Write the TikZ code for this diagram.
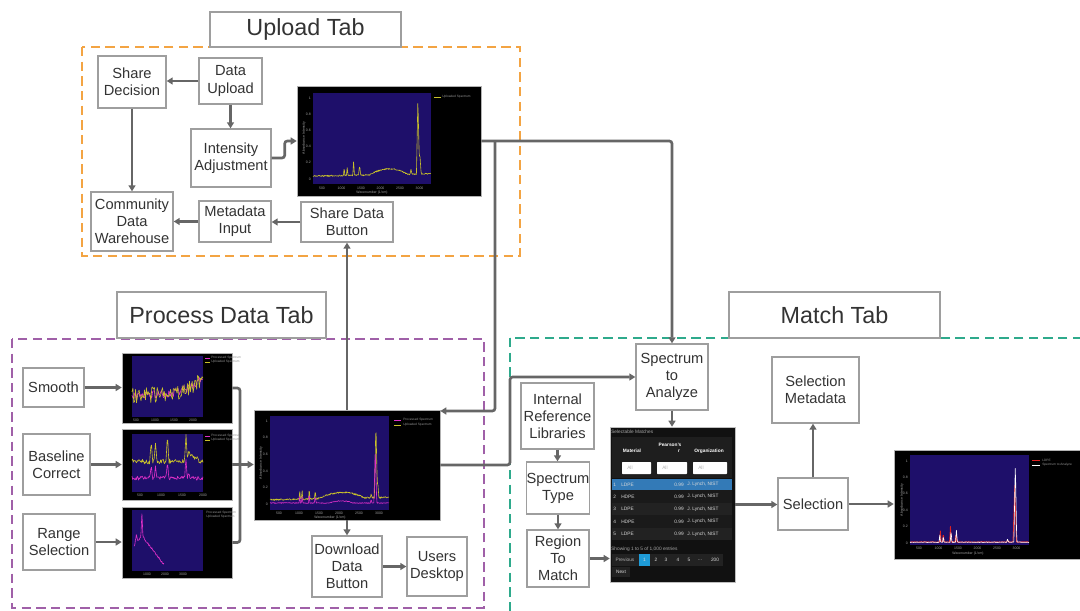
\documentclass[tikz,border=0pt]{standalone}
\usepackage{fontspec}
\setmainfont{Liberation Sans}
\usetikzlibrary{arrows.meta,fit,calc}
\definecolor{txt}{HTML}{333333}
\definecolor{bord}{HTML}{9E9E9E}
\definecolor{conn}{HTML}{666666}
\definecolor{orng}{HTML}{F3A443}
\definecolor{purp}{HTML}{A060A8}
\definecolor{teal}{HTML}{2EAA8C}
\definecolor{plotbg}{HTML}{1E0F6A}
\definecolor{ylw}{HTML}{C9C12A}
\definecolor{mag}{HTML}{E030C8}
\definecolor{redl}{HTML}{E02020}
\definecolor{tblbg}{HTML}{111111}
\definecolor{tblhd}{HTML}{1E1E1E}
\definecolor{rowa}{HTML}{1A1A1A}
\definecolor{rowb}{HTML}{222222}
\definecolor{tblblue}{HTML}{337AB7}
\definecolor{pgblue}{HTML}{1E9BD7}
% box helper: style, name, x1, y1, x2, y2, text  (pixel coordinates)
\newcommand\bx[7]{%
  \pgfmathsetmacro\bxw{(#5-#3)*0.75}%
  \pgfmathsetmacro\bxh{(#6-#4)*0.75}%
  \node[#1, minimum width=\bxw pt, minimum height=\bxh pt] (#2) at ({(#3+#5)/2},{(#4+#6)/2}) {#7};}
\begin{document}
\pgfmathsetseed{7}
\begin{tikzpicture}[x=0.75pt,y=-0.75pt,
  declare function={tri(\ta,\tc,\tw)=max(0,1-abs(\ta-\tc)/\tw);
                    bump(\ta,\tc,\tw)=max(0,1-((\ta-\tc)/\tw)^2);},
  box/.style={draw=bord, line width=1pt, fill=white, text=txt, align=center,
              inner sep=0pt, font=\fontsize{11}{12.8}\selectfont},
  titlebox/.style={draw=bord, line width=0.9pt, fill=white, text=txt,
              inner sep=0pt, font=\fontsize{17.5}{20}\selectfont},
  arr/.style={draw=conn, line width=2pt, rounded corners=2pt,
              -{Triangle[length=4.5pt,width=5.2pt]}},
  plain/.style={draw=conn, line width=2pt, rounded corners=2pt},
  zone/.style={line width=1.1pt, dash pattern=on 7pt off 4pt},
  plotfr/.style={fill=black, draw=gray!60, line width=0.4pt, inner sep=0pt},
  tblfr/.style={fill=tblbg, draw=gray!50, line width=0.4pt, inner sep=0pt},
  spec/.style={line width=0.45pt, line join=round},
  tick/.style={text=gray!75, inner sep=0pt, font=\fontsize{2.6}{3}\selectfont},
  leg/.style={text=gray!85, inner sep=0pt, font=\fontsize{2.4}{3}\selectfont},
  tcell/.style={text=white!85!black, inner sep=0pt, font=\fontsize{3.6}{4}\selectfont},
  thead/.style={text=white, inner sep=0pt, font=\fontsize{3.6}{4}\selectfont\bfseries},
]
\useasboundingbox (0,0) rectangle (1080,610);
\clip (0,0) rectangle (1080,610);

% ---------- zones ----------
\draw[zone, draw=orng] (82,47) rectangle (520,256);
\draw[zone, draw=purp] (12,339) rectangle (484,608);
\draw[zone, draw=teal] (510,338) rectangle (1110,640);

\bx{titlebox}{tup}{210}{12}{401}{47}{Upload Tab}
\bx{titlebox}{tpr}{117}{292}{326}{338}{Process Data Tab}
\bx{titlebox}{tma}{729}{292}{940}{338}{Match Tab}

% ---------- boxes ----------
\bx{box}{sd}{98}{56}{166}{108}{Share\\Decision}
\bx{box}{du}{199}{58}{262}{104}{Data\\Upload}
\bx{box}{ia}{191}{129}{271}{187}{Intensity\\Adjustment}
\bx{box}{cdw}{91}{192}{173}{251}{Community\\Data\\Warehouse}
\bx{box}{mi}{199}{201}{271}{242}{Metadata\\Input}
\bx{box}{sdb}{301}{202}{393}{242}{Share Data\\Button}

\bx{box}{sm}{23}{368}{84}{407}{Smooth}
\bx{box}{bc}{23}{434}{90}{495}{Baseline\\Correct}
\bx{box}{rs}{23}{514}{95}{570}{Range\\Selection}
\bx{box}{ddb}{312}{536}{382}{597}{Download\\Data\\Button}
\bx{box}{ud}{407}{537}{467}{596}{Users\\Desktop}

\bx{box}{sta}{636}{344}{708}{410}{Spectrum\\to\\Analyze}
\bx{box}{irl}{521}{383}{594}{449}{Internal\\Reference\\Libraries}
\bx{box}{st}{527}{462}{589}{514}{Spectrum\\Type}
\bx{box}{rtm}{527}{530}{589}{587}{Region\\To\\Match}
\bx{box}{sel}{778}{478}{848}{530}{Selection}
\bx{box}{selm}{772}{357}{859}{423}{Selection\\Metadata}

% ---------- plot frames ----------
\bx{plotfr}{upl}{297}{86}{481}{196}{}
\bx{plotfr}{p1}{122}{353}{232}{423}{}
\bx{plotfr}{p2}{122}{429}{232}{500}{}
\bx{plotfr}{p3}{122}{507}{232}{578}{}
\bx{plotfr}{proc}{254}{410}{440}{520}{}
\bx{plotfr}{selp}{894}{450}{1085}{559}{}
\bx{tblfr}{tbl}{610}{427}{735}{582}{}

% ---------- upload plot ----------
\fill[plotbg] (313,93) rectangle (431,184);
\begin{scope}[shift={(313,179)}, x=88.5pt, y=60.75pt]
\draw[ylw, spec] plot[domain=0:1, samples=260, variable=\u] (\u,{0.035+0.03*\u+0.07*bump(\u,0.64,0.16)+0.10*tri(\u,0.264,0.006)+0.10*tri(\u,0.29,0.006)+0.18*tri(\u,0.344,0.007)+0.12*tri(\u,0.395,0.01)+0.06*tri(\u,0.83,0.008)+0.95*tri(\u,0.889,0.012)+0.25*tri(\u,0.905,0.012)+0.008*rand});
\end{scope}
\draw[ylw, line width=0.6pt] (434,97) -- (441,97);
\node[leg, anchor=west] (ul1) at (442,97) {Uploaded Spectrum};
\foreach \v [count=\i] in {0,0.2,0.4,0.6,0.8,1} \node[tick, anchor=east] (uy\i) at (311,{179-81*\v}) {\v};
\foreach \l [count=\i] in {500,1000,1500,2000,2500,3000} \node[tick] (ux\i) at ({322+19.5*(\i-1)},188) {\l};
\node[tick] (uxl) at (372,193) {Wavenumber (1/cm)};
\node[tick, rotate=90] (uyl) at (304,138) {Absorbance Intensity};

% ---------- smooth plot ----------
\fill[plotbg] (132,356) rectangle (203,417);
\begin{scope}[shift={(132,417)}, x=53.25pt, y=45.75pt]
\draw[mag, spec] plot[domain=0:1, samples=80, variable=\u] (\u,{0.36+0.3*\u^4+0.07*rand});
\draw[ylw, spec] plot[domain=0:1, samples=80, variable=\u] (\u,{0.36+0.3*\u^4+0.13*rand});
\end{scope}
\draw[mag, line width=0.5pt] (205,358) -- (210,358);
\draw[ylw, line width=0.5pt] (205,362) -- (210,362);
\node[leg, anchor=west] (s1l1) at (211,358) {Processed Spectrum};
\node[leg, anchor=west] (s1l2) at (211,362) {Uploaded Spectrum};
\foreach \l [count=\i] in {500,1000,1500,2000} \node[tick] (s1x\i) at ({136+19*(\i-1)},420) {\l};

% ---------- baseline plot ----------
\fill[plotbg] (132,434) rectangle (203,492);
\begin{scope}[shift={(132,484)}, x=53.25pt, y=37.5pt]
\draw[ylw, spec] plot[domain=0:1, samples=110, variable=\u] (\u,{0.45+0.05*rand+0.5*tri(\u,0.5,0.02)+0.4*tri(\u,0.27,0.02)+0.4*tri(\u,0.33,0.02)+0.5*tri(\u,0.76,0.02)+0.2*tri(\u,0.8,0.02)+0.1*bump(\u,0.85,0.1)});
\draw[mag, spec] plot[domain=0:1, samples=110, variable=\u] (\u,{0.12+0.04*rand+0.35*tri(\u,0.5,0.02)+0.25*tri(\u,0.27,0.02)+0.25*tri(\u,0.33,0.02)+0.4*tri(\u,0.76,0.02)+0.1*tri(\u,0.8,0.02)});
\end{scope}
\draw[mag, line width=0.5pt] (205,436) -- (210,436);
\draw[ylw, line width=0.5pt] (205,440) -- (210,440);
\node[leg, anchor=west] (s2l1) at (211,436) {Processed Spectrum};
\node[leg, anchor=west] (s2l2) at (211,440) {Uploaded Spectrum};
\foreach \l [count=\i] in {500,1000,1500,2000} \node[tick] (s2x\i) at ({140+21*(\i-1)},495) {\l};

% ---------- range plot ----------
\fill[plotbg] (132,510) rectangle (203,571);
\begin{scope}[shift={(132,568)}, x=53.25pt, y=42pt]
\draw[mag, spec] plot[domain=0.03:0.45, samples=70, variable=\u] (\u,{0.08+0.5*max(0,1-abs(\u-0.14)/0.3)+0.4*tri(\u,0.14,0.015)+0.15*tri(\u,0.06,0.02)+0.02*rand});
\end{scope}
\node[leg, anchor=west] (s3l1) at (206,513) {Processed Spectrum};
\node[leg, anchor=west] (s3l2) at (206,517) {Uploaded Spectrum};
\foreach \l [count=\i] in {1000,2000,3000} \node[tick] (s3x\i) at ({147+18*(\i-1)},574) {\l};

% ---------- process main plot ----------
\fill[plotbg] (270,416) rectangle (389,510);
\begin{scope}[shift={(270,504)}, x=89.25pt, y=62.25pt]
\draw[ylw, spec] plot[domain=0:1, samples=260, variable=\u] (\u,{0.05+0.03*\u+0.07*bump(\u,0.6,0.2)+0.12*tri(\u,0.25,0.006)+0.10*tri(\u,0.27,0.006)+0.14*tri(\u,0.33,0.006)+0.10*tri(\u,0.38,0.008)+0.05*tri(\u,0.85,0.008)+0.92*tri(\u,0.89,0.012)+0.2*tri(\u,0.905,0.01)+0.01*rand});
\draw[mag, spec] plot[domain=0:1, samples=260, variable=\u] (\u,{0.012+0.025*bump(\u,0.6,0.1)+0.10*tri(\u,0.25,0.006)+0.08*tri(\u,0.27,0.006)+0.12*tri(\u,0.33,0.006)+0.08*tri(\u,0.38,0.008)+0.04*tri(\u,0.85,0.008)+0.64*tri(\u,0.885,0.012)+0.005*rand});
\end{scope}
\draw[mag, line width=0.6pt] (394,420) -- (401,420);
\draw[ylw, line width=0.6pt] (394,425) -- (401,425);
\node[leg, anchor=west] (pl1) at (403,420) {Processed Spectrum};
\node[leg, anchor=west] (pl2) at (403,425) {Uploaded Spectrum};
\foreach \v [count=\i] in {0,0.2,0.4,0.6,0.8,1} \node[tick, anchor=east] (py\i) at (268,{504-83*\v}) {\v};
\foreach \l [count=\i] in {500,1000,1500,2000,2500,3000} \node[tick] (px\i) at ({279+20*(\i-1)},513) {\l};
\node[tick] (pxl) at (330,518) {Wavenumber (1/cm)};
\node[tick, rotate=90] (pyl) at (261,463) {Absorbance Intensity};

% ---------- selection plot ----------
\fill[plotbg] (910,455) rectangle (1029,545);
\begin{scope}[shift={(910,543)}, x=89.25pt, y=61.5pt]
\draw[redl, spec, line width=0.6pt] plot[domain=0:1, samples=260, variable=\u] (\u,{0.012+0.14*tri(\u,0.255,0.006)+0.12*tri(\u,0.28,0.006)+0.2*tri(\u,0.34,0.007)+0.1*tri(\u,0.385,0.008)+0.03*tri(\u,0.82,0.008)+0.7*tri(\u,0.88,0.014)+0.004*rand});
\draw[white, spec] plot[domain=0:1, samples=260, variable=\u] (\u,{0.01+0.1*tri(\u,0.25,0.006)+0.08*tri(\u,0.28,0.006)+0.15*tri(\u,0.345,0.007)+0.15*tri(\u,0.39,0.008)+0.04*tri(\u,0.82,0.008)+0.98*tri(\u,0.885,0.012)+0.004*rand});
\end{scope}
\draw[redl, line width=0.6pt] (1032,460) -- (1040,460);
\draw[white, line width=0.6pt] (1032,465) -- (1040,465);
\node[leg, anchor=west] (sl1) at (1042,460) {LDPE};
\node[leg, anchor=west] (sl2) at (1042,465) {Spectrum to Analyze};
\foreach \v [count=\i] in {0,0.2,0.4,0.6,0.8,1} \node[tick, anchor=east] (sy\i) at (908,{543-82*\v}) {\v};
\foreach \l [count=\i] in {500,1000,1500,2000,2500,3000} \node[tick] (sx\i) at ({919+19.5*(\i-1)},548) {\l};
\node[tick] (sxl) at (968,554) {Wavenumber (1/cm)};
\node[tick, rotate=90] (syl) at (902,500) {Absorbance Intensity};

% ---------- table ----------
\node[tcell, anchor=west, text=gray!70] (tt) at (611,432) {Selectable Matches};
\fill[tblhd] (612,437) rectangle (732,478);
\node[thead] (th1) at (670,445) {Pearson's};
\node[thead] (th2) at (632,451) {Material};
\node[thead] (th3) at (679,451) {r};
\node[thead] (th4) at (709,451) {Organization};
\foreach \xa/\xb [count=\i] in {622/651,657/687,693/727} {
  \fill[white, rounded corners=0.5pt] (\xa,462) rectangle (\xb,474);
  \node[tcell, anchor=west, text=gray!60] (tf\i) at ({\xa+5},468) {All};
}
\fill[tblblue] (612,479) rectangle (732,490);
\fill[rowa] (612,490) rectangle (732,503);
\fill[rowb] (612,503) rectangle (732,515);
\fill[rowa] (612,515) rectangle (732,528);
\fill[rowb] (612,528) rectangle (732,540);
\foreach \m/\yy [count=\i] in {LDPE/484.5,HDPE/496.5,LDPE/509,HDPE/521.5,LDPE/534} {
  \node[tcell, anchor=west] (tn\i) at (613,\yy) {\i};
  \node[tcell, anchor=west] (tm\i) at (621,\yy) {\m};
  \node[tcell, anchor=east] (tr\i) at (684,\yy) {0.99};
  \node[tcell, anchor=west] (to\i) at (687,\yy) {J. Lynch, NIST};
}
\node[tcell, anchor=west, text=gray!70] (tsh) at (611,549) {Showing 1 to 5 of 1,000 entries};
\fill[rowb] (612,554) rectangle (723,566);
\fill[pgblue] (639,554) rectangle (650,566);
\node[tcell, text=gray!60] (tpv) at (625,560) {Previous};
\foreach \l/\xx [count=\i] in {1/644.5,2/656,3/666,4/678,5/689,200/715}
  \node[tcell] (tp\i) at (\xx,560) {\l};
\node[tcell] (tpe) at (700,560) {\ldots};
\fill[rowb] (612,567) rectangle (630,577);
\node[tcell] (tnx) at (621,572) {Next};

% ---------- connectors ----------
\coordinate (jx) at (495,411);
\coordinate (jy) at (510,377);
\coordinate (jm) at (240,465);
\draw[arr] (du.west) -- (du.west -| sd.east);
\draw[arr] (du.south) -- (du.south |- ia.north);
\draw[arr] (ia.east) -- ++(13,0) |- (upl.west);
\draw[arr] (sd.south) -- (sd.south |- cdw.north);
\draw[arr] (mi.west) -- (mi.west -| cdw.east);
\draw[arr] (sdb.west) -- (sdb.west -| mi.east);
\draw[arr] (proc.north) -- (proc.north |- sdb.south);
\draw[arr] (upl.east) -| (sta.north);
\draw[arr] (upl.east -| jx) -- (jx) -- (jx -| proc.east);
\draw[arr] (proc.east) -| (jy) -- (sta.west);
\draw[arr] (sm.east) -- (sm.east -| p1.west);
\draw[arr] (bc.east) -- (bc.east -| p2.west);
\draw[arr] (rs.east) -- (rs.east -| p3.west);
\draw[plain] (p1.east) -| (jm);
\draw[plain] (p3.east) -| (jm);
\draw[arr] (p2.east) -- (p2.east -| proc.west);
\draw[arr] (proc.south) -- (proc.south |- ddb.north);
\draw[arr] (ddb.east) -- (ddb.east -| ud.west);
\draw[arr] (sta.south) -- (sta.south |- tbl.north);
\draw[arr] (irl.south) -- (irl.south |- st.north);
\draw[arr] (st.south) -- (st.south |- rtm.north);
\draw[arr] (rtm.east) -- (rtm.east -| tbl.west);
\draw[arr] (tbl.east) -- (tbl.east -| sel.west);
\draw[arr] (sel.north) -- (sel.north |- selm.south);
\draw[arr] (sel.east) -- (sel.east -| selp.west);
\end{tikzpicture}
\end{document}
